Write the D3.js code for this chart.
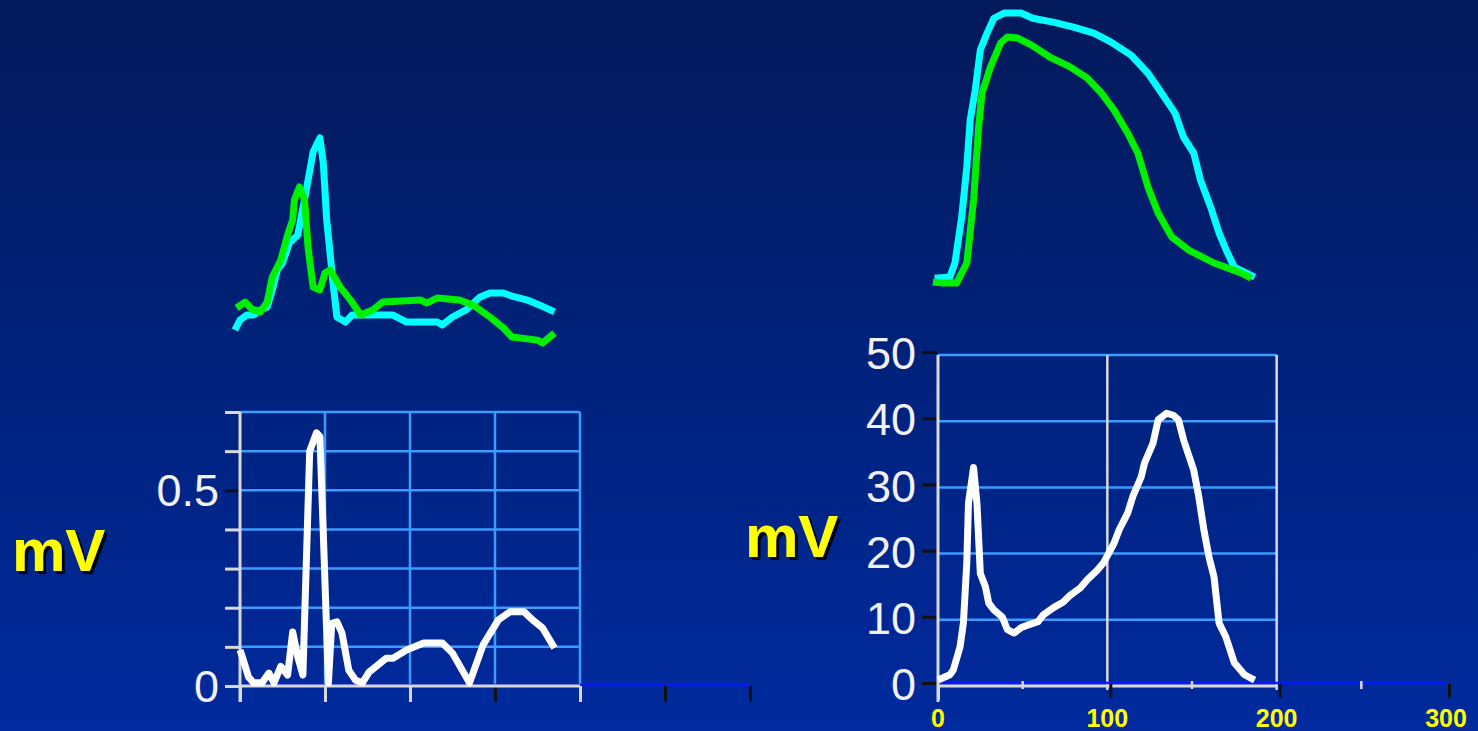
<!DOCTYPE html>
<html><head><meta charset="utf-8">
<script src="https://cdn.jsdelivr.net/npm/d3@7"></script>
<style>html,body{margin:0;padding:0;overflow:hidden;background:#001f7a}</style>
</head><body>
<svg id="chart" width="1478" height="731"></svg>
<script>
// ---------- DATA ----------
// Left panel: surface ECG (mV) vs time (ms)
const ecgT = [0,2,5,8,13,17,20,24,28,31,34,37,41,45,47,49,52,54,57,60,64,68,72,76,86,90,98,108,119,125,135,143,152,159,167,172,178,185];
const ecgV = [0.092,0.066,0.023,0.008,0.008,0.033,0.008,0.05,0.028,0.138,0.074,0.028,0.60,0.647,0.637,0.39,0.008,0.16,0.164,0.135,0.04,0.015,0.008,0.036,0.071,0.071,0.092,0.11,0.11,0.084,0.008,0.105,0.169,0.19,0.19,0.169,0.148,0.097];
// Left panel traces above (relative amplitude)
const leftCyanT = [-3,0,4,8,12,16,19,22,25,29,34,36,39,43,47,49,51,55,57,62,66,82,90,98,116,119,125,133,141,147,155,160,169,176,185];
const leftCyanV = [9.1,13.6,15.9,15.9,18.2,19.5,27.3,36.4,39.5,48.6,52.3,60.5,72.7,90,96.4,85,59,28.6,15,12.7,15.9,15.9,15.9,12.7,12.7,11.4,15,18.2,24,25.9,25.9,24.5,22.7,20.5,17.3];
const leftGreenT = [-2,3,7,12,16,19,24,28,31,32,35,38,40,43,47,50,53,59,65,71,78,84,106,110,116,129,137,147,155,160,175,178,185];
const leftGreenV = [19.1,21.8,18.6,17.3,21.8,33.2,40.9,52.3,59.1,68.2,74.1,68.2,46.8,28.6,27.3,35,36.4,28.6,22.7,15.9,18.2,21.8,22.7,21.4,23.6,22.7,20.5,15,10,5.9,4.5,3.2,7.7];
// Right panel: signal (mV) vs time (ms)
const sigT = [0,7,9,13,15,17,18,21,23,25,28,30,33,38,41,45,49,53,59,62,68,74,78,84,88,94,98,104,107,112,115,120,122,127,130,135,139,142,145,151,154,157,160,163,166,170,175,181,187];
const sigV = [0.9,1.7,2.4,5.9,9.5,18.6,27.6,33,27.6,17,15,12.5,11.5,10.4,8.5,8,8.8,9.2,9.7,10.7,11.8,12.7,13.7,14.8,16,17.5,18.7,21.6,23.6,26.1,28.6,31.6,33.7,36.7,40.2,41.2,40.9,40.2,37.2,32.6,28.6,23.6,19.5,16.5,9.5,7.4,3.5,1.7,0.9];
// Right panel traces above (relative amplitude)
const rightCyanT = [-2,7,10,14,17,19,22,25,29,33,39,49,56,68,80,92,102,114,124,132,140,145,151,155,161,166,171,175,187];
const rightCyanV = [2.5,2.9,8,24.7,42.9,60,70.9,85.5,91.6,97,98.9,98.9,97,95.6,93.8,91.6,88.4,83.6,77,69.8,62.5,53.8,48,38.2,28.4,18.9,11.6,6.5,2.9];
const rightGreenT = [-3,3,11,17,21,24,26,31,37,41,47,55,66,78,88,96,104,112,118,124,130,138,148,163,179,185];
const rightGreenV = [1.1,0.7,0.7,8,30.9,57.5,69.8,79.3,88,90.2,89.8,87.3,82.9,79.3,75.3,70.2,63.6,55.3,48,35.6,26.2,17.5,12.7,8,4.4,2.5];
// Tick labels
const leftYTickLabels = [0, 0.5];
const rightYTicks = [0,10,20,30,40,50];
const rightXTicks = [0,100,200,300];
const unitLabel = "mV";

// ---------- DRAW ----------
const svg = d3.select("#chart");
const defs = svg.append("defs");
const grad = defs.append("linearGradient").attr("id","bg").attr("x1",0).attr("y1",0).attr("x2",0).attr("y2",1);
grad.append("stop").attr("offset","0%").attr("stop-color","#03195a");
grad.append("stop").attr("offset","55%").attr("stop-color","#00237f");
grad.append("stop").attr("offset","100%").attr("stop-color","#002a9e");
const shadow = defs.append("filter").attr("id","shadow").attr("x","-10%").attr("y","-10%").attr("width","130%").attr("height","130%");
shadow.append("feDropShadow").attr("dx",3).attr("dy",3).attr("stdDeviation",0.4).attr("flood-color","#000").attr("flood-opacity",1);
svg.append("rect").attr("width",1478).attr("height",731).attr("fill","url(#bg)");

const GRID = "#3d9bff", AXIS = "#d9d9d9", BLUE = "#0a18ff";
const pts = (T,V) => T.map((t,i)=>[t,V[i]]);

function drawLine(g, data, x, y, color, w){
  g.append("path").datum(data)
    .attr("fill","none").attr("stroke",color).attr("stroke-width",w)
    .attr("stroke-linejoin","round").attr("stroke-linecap","butt")
    .attr("d", d3.line().x(d=>x(d[0])).y(d=>y(d[1])));
}

// ===== LEFT PANEL =====
const xL = d3.scaleLinear([0,300],[240,750]);
const yL = d3.scaleLinear([0,0.7],[686,412]);
const gl = svg.append("g");
gl.append("g").selectAll("line").data(d3.range(1,8).map(i=>i/10)).join("line")
  .attr("x1",xL(0)).attr("x2",xL(200)).attr("y1",d=>yL(d)).attr("y2",d=>yL(d))
  .attr("stroke",GRID).attr("stroke-width",2.5);
gl.append("g").selectAll("line").data([50,100,150,200]).join("line")
  .attr("x1",d=>xL(d)).attr("x2",d=>xL(d)).attr("y1",yL(0)).attr("y2",yL(0.7))
  .attr("stroke",GRID).attr("stroke-width",2.5);
gl.append("line").attr("x1",xL(0)).attr("x2",xL(300)).attr("y1",yL(0)-1).attr("y2",yL(0)-1).attr("stroke",BLUE).attr("stroke-width",2.5);
const axL = gl.append("g").attr("transform",`translate(0,${yL(0)})`)
  .call(d3.axisBottom(xL).tickValues(d3.range(0,301,50)).tickSize(16).tickFormat(""));
axL.select(".domain").remove();
axL.selectAll(".tick line").attr("stroke",d=>[150,250,300].includes(d)?"#111":AXIS).attr("stroke-width",3);
gl.append("line").attr("x1",xL(0)).attr("x2",xL(200)).attr("y1",yL(0)).attr("y2",yL(0)).attr("stroke",AXIS).attr("stroke-width",3);
const ayL = gl.append("g").attr("transform",`translate(${xL(0)},0)`)
  .call(d3.axisLeft(yL).tickValues(d3.range(0,8).map(i=>i/10)).tickSize(15).tickFormat(""));
ayL.select(".domain").remove();
ayL.selectAll(".tick line").attr("stroke",d=>(Math.abs(d-0.5)<1e-9)?"#111":AXIS).attr("stroke-width",3);
gl.append("line").attr("x1",xL(0)).attr("x2",xL(0)).attr("y1",yL(0)+16).attr("y2",yL(0.7)).attr("stroke",AXIS).attr("stroke-width",3);
gl.append("g").selectAll("text").data(leftYTickLabels).join("text")
  .attr("x",219).attr("y",d=>yL(d)).attr("dy","0.36em").attr("text-anchor","end")
  .attr("font-family","Liberation Sans, Arial, sans-serif").attr("font-size",45).attr("fill","#f2f2f2")
  .text(d=>d);
drawLine(gl, pts(ecgT,ecgV), xL, yL, "#ffffff", 7);
const yTL = d3.scaleLinear([0,100],[350,130]);
drawLine(gl, pts(leftCyanT,leftCyanV), xL, yTL, "#00ffff", 7);
drawLine(gl, pts(leftGreenT,leftGreenV), xL, yTL, "#00f000", 7);

// ===== RIGHT PANEL =====
const xR = d3.scaleLinear([0,300],[938,1446]);
const yR = d3.scaleLinear([0,50],[686,355]);
const gr = svg.append("g");
gr.append("g").selectAll("line").data([10,20,30,40,50]).join("line")
  .attr("x1",xR(0)).attr("x2",xR(200)).attr("y1",d=>yR(d)).attr("y2",d=>yR(d))
  .attr("stroke",GRID).attr("stroke-width",2.5);
gr.append("g").selectAll("line").data([100,200]).join("line")
  .attr("x1",d=>xR(d)).attr("x2",d=>xR(d)).attr("y1",yR(0)+4).attr("y2",yR(50))
  .attr("stroke",AXIS).attr("stroke-width",2.5);
gr.append("line").attr("x1",xR(0)).attr("x2",xR(300)).attr("y1",yR(0)-3).attr("y2",yR(0)-3).attr("stroke",BLUE).attr("stroke-width",2.5);
gr.append("line").attr("x1",xR(0)).attr("x2",xR(200)).attr("y1",yR(0)).attr("y2",yR(0)).attr("stroke",AXIS).attr("stroke-width",3);
const axR = gr.append("g").attr("transform",`translate(0,${yR(0)})`)
  .call(d3.axisBottom(xR).tickValues(rightXTicks).tickSize(14).tickFormat(""));
axR.select(".domain").remove();
axR.selectAll(".tick line").attr("stroke",d=>d===0?AXIS:"#111").attr("stroke-width",3)
  .attr("transform",d=>d===0?null:"translate(3,-2)");
gr.append("g").selectAll("line").data([50,150,250]).join("line")
  .attr("x1",d=>xR(d)).attr("x2",d=>xR(d)).attr("y1",yR(0)-5).attr("y2",yR(0)+3)
  .attr("stroke",AXIS).attr("stroke-width",2.5);
gr.append("g").selectAll("text").data(rightXTicks).join("text")
  .attr("x",d=>xR(d)).attr("y",727).attr("text-anchor","middle")
  .attr("font-family","Liberation Sans, Arial, sans-serif").attr("font-weight","bold").attr("font-size",25).attr("fill","#ffff00")
  .text(d=>d);
const ayR = gr.append("g").attr("transform",`translate(${xR(0)},0)`)
  .call(d3.axisLeft(yR).tickValues(rightYTicks).tickSize(16).tickFormat(""));
ayR.select(".domain").remove();
ayR.selectAll(".tick line").attr("stroke","#111").attr("stroke-width",3).attr("transform","translate(0,-3)");
gr.append("line").attr("x1",xR(0)).attr("x2",xR(0)).attr("y1",yR(0)+16).attr("y2",yR(50)).attr("stroke",AXIS).attr("stroke-width",3);
gr.append("g").selectAll("text").data(rightYTicks).join("text")
  .attr("x",916).attr("y",d=>yR(d)-2).attr("dy","0.36em").attr("text-anchor","end")
  .attr("font-family","Liberation Sans, Arial, sans-serif").attr("font-size",45).attr("fill","#f2f2f2")
  .text(d=>d);
drawLine(gr, pts(sigT,sigV), xR, yR, "#ffffff", 7);
const yTR = d3.scaleLinear([0,100],[285,10]);
drawLine(gr, pts(rightCyanT,rightCyanV), xR, yTR, "#00ffff", 7);
drawLine(gr, pts(rightGreenT,rightGreenV), xR, yTR, "#00f000", 7);

// ===== unit labels (single text with drop shadow) =====
function unit(x,y){
  svg.append("text").attr("x",x).attr("y",y).attr("font-family","Liberation Sans, Arial, sans-serif")
    .attr("font-weight","bold").attr("font-size",60).attr("fill","#ffff00")
    .attr("filter","url(#shadow)").text(unitLabel);
}
unit(12,571);
unit(745,557);
</script>
</body></html>
